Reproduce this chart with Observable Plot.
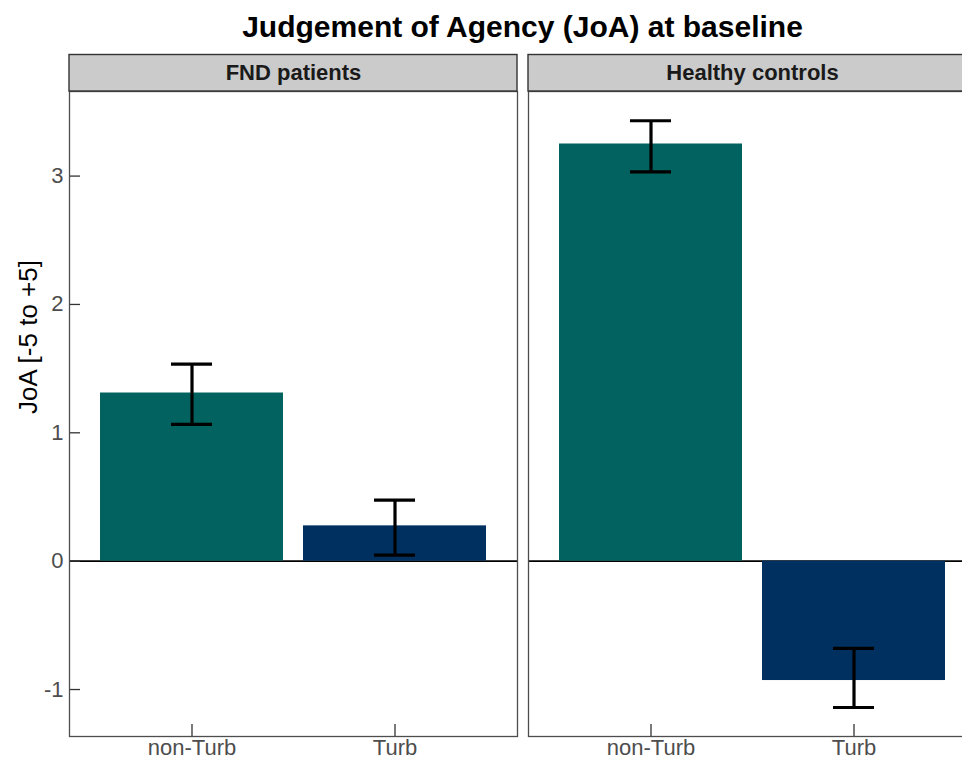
<!DOCTYPE html>
<html>
<head>
<meta charset="utf-8">
<script src="https://cdn.jsdelivr.net/npm/d3@7"></script>
<script src="https://cdn.jsdelivr.net/npm/@observablehq/plot@0.6"></script>
<style>
  html, body { margin: 0; padding: 0; background: #fff; overflow: hidden; width: 962px; height: 758px; }
  #wrap { width: 977px; font-family: "Liberation Sans", Arial, Helvetica, sans-serif; }
  #title { height: 48px; line-height: 53px; font-size: 30px; font-weight: bold; text-align: center; color: #000; padding-left: 68px; box-sizing: border-box; white-space: nowrap; }
</style>
</head>
<body>
<div id="wrap">
  <div id="title">Judgement of Agency (JoA) at baseline</div>
  <div id="chart"></div>
</div>
<script>
// ---- data ----
const groups = ["FND patients", "Healthy controls"];
const conditions = ["non-Turb", "Turb"];
const fndMean = [1.31, 0.275];
const fndLower = [1.065, 0.047];
const fndUpper = [1.535, 0.476];
const hcMean = [3.25, -0.93];
const hcLower = [3.033, -1.14];
const hcUpper = [3.431, -0.68];
const yTicks = [-1, 0, 1, 2, 3];
const yLabel = "JoA [-5 to +5]";
const colors = ["#02625F", "#00305F"];

const rows = [];
conditions.forEach((c, i) => rows.push({group: groups[0], condition: c, mean: fndMean[i], lower: fndLower[i], upper: fndUpper[i]}));
conditions.forEach((c, i) => rows.push({group: groups[1], condition: c, mean: hcMean[i], lower: hcLower[i], upper: hcUpper[i]}));
const strips = groups.map(g => ({group: g}));
const yTickRows = yTicks.map(v => ({group: groups[0], v}));

const W = 977, H = 710, mT = 43, mB = 22, mL = 68, mR = 0;
const frameH = H - mT - mB;
const yDomain = [-1.366, 3.659];
const pxPerUnit = frameH / (yDomain[1] - yDomain[0]);
const stripPx = 36.5;
const stripTop = yDomain[1] + stripPx / pxPerUnit;
const tickLen = 12;
const facetW = 449;

const chart = Plot.plot({
  width: W, height: H,
  marginTop: mT, marginBottom: mB, marginLeft: mL, marginRight: mR,
  style: {fontFamily: '"Liberation Sans", Arial, Helvetica, sans-serif', color: "#4d4d4d", background: "white", overflow: "visible"},
  fx: {domain: groups, paddingInner: 0.0239, paddingOuter: 0, axis: null},
  x: {domain: conditions, paddingInner: 0.1, paddingOuter: 0.15, axis: null},
  y: {domain: yDomain, axis: null},
  color: {domain: conditions, range: colors},
  marks: [
    Plot.ruleY([0], {stroke: "black", strokeWidth: 1.6}),
    Plot.barY(rows, {fx: "group", x: "condition", y: "mean", fill: "condition"}),
    Plot.ruleX(rows, {fx: "group", x: "condition", y1: "lower", y2: "upper", stroke: "black", strokeWidth: 3.2}),
    Plot.tickY(rows, {fx: "group", x: "condition", y: "upper", stroke: "black", strokeWidth: 3.2, insetLeft: 71, insetRight: 71}),
    Plot.tickY(rows, {fx: "group", x: "condition", y: "lower", stroke: "black", strokeWidth: 3.2, insetLeft: 71, insetRight: 71}),
    // inward ticks
    Plot.tickY(yTickRows, {fx: "group", y: "v", stroke: "#333333", strokeWidth: 1.3, insetRight: facetW - tickLen}),
    Plot.tickX(rows, {fx: "group", x: "condition", stroke: "#333333", strokeWidth: 1.3, insetTop: frameH - tickLen}),
    Plot.axisY({ticks: yTicks, tickSize: 0, tickPadding: 6, fontSize: 22, label: null, facetAnchor: "left", tickFormat: d => d < 0 ? "-" + Math.abs(d) : String(d)}),
    Plot.axisX({tickSize: 0, tickPadding: 3, fontSize: 22, label: null, facetAnchor: "bottom"}),
    Plot.frame({stroke: "#4d4d4d", strokeWidth: 1.3}),
    Plot.rect(strips, {fx: "group", y1: () => yDomain[1], y2: () => stripTop, fill: "#cbcbcb", stroke: "#333333", strokeWidth: 1.4}),
    Plot.text(strips, {fx: "group", text: "group", frameAnchor: "top", lineAnchor: "middle", dy: -19, fontSize: 22, fontWeight: "bold", fill: "#1a1a1a"}),
    Plot.text([{group: groups[0], label: yLabel}], {fx: "group", text: "label", frameAnchor: "left", dx: -41, rotate: -90, fontSize: 26, fill: "#000"})
  ]
});
document.getElementById("chart").appendChild(chart);
</script>
</body>
</html>
